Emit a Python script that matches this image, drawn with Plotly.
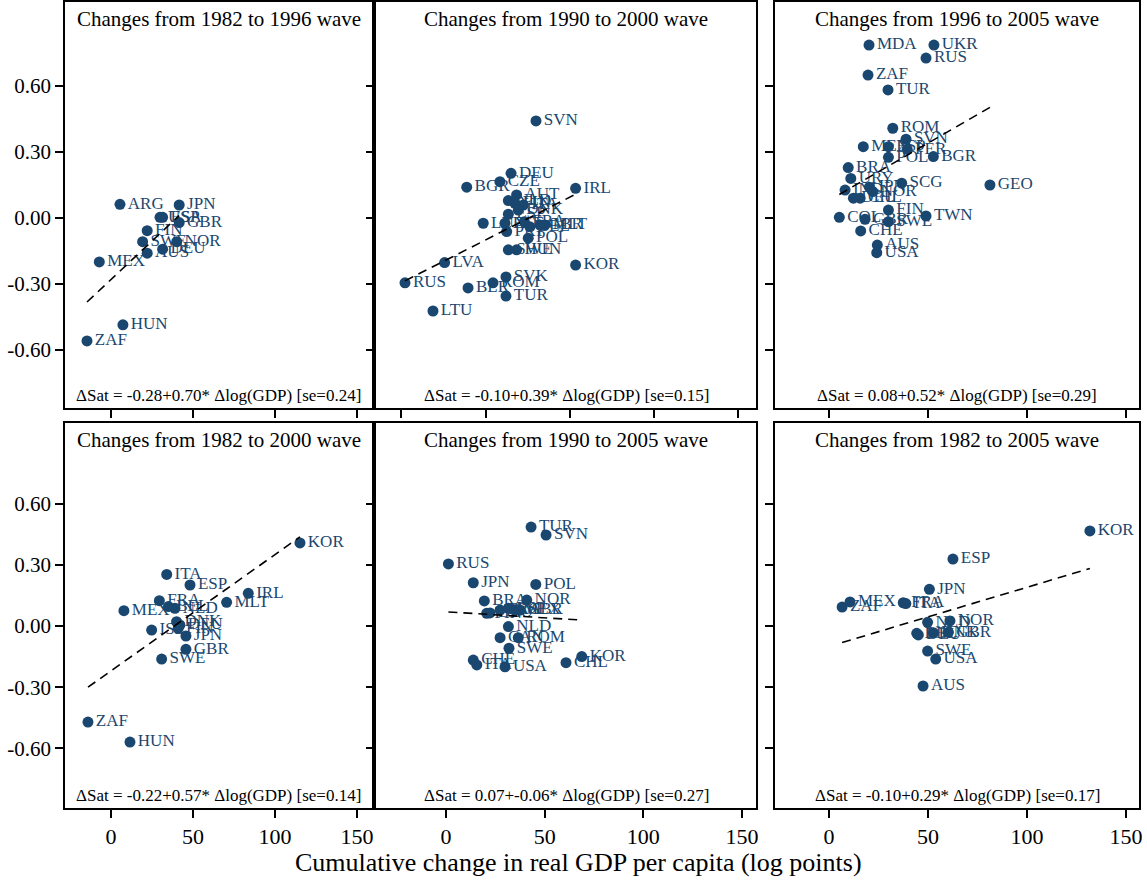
import plotly.graph_objects as go

# ---------------- data ----------------
p1_codes = ["ARG", "JPN", "USA", "ESP", "GBR", "FIN", "SWE", "NOR", "DEU", "AUS", "MEX", "HUN", "ZAF"]
p1_gdp = [5.5, 41.6, 29.9, 31.5, 41.6, 22.1, 19.3, 40.1, 31.5, 22.1, -7.1, 7.3, -14.6]
p1_sat = [0.062, 0.059, 0.003, 0.003, -0.021, -0.058, -0.108, -0.108, -0.142, -0.160, -0.200, -0.486, -0.559]
p1_fit_x = [-14.6, 41.6]
p1_fit_y = [-0.382, 0.011]

p2_codes = ["SVN", "DEU", "CZE", "BGR", "IRL", "AUT", "NLD", "FIN", "ITA", "DNK", "ESP", "LUX", "EST",
            "FRA", "BEL", "GBR", "MLT", "PRT", "POL", "SWE", "HUN", "KOR", "LVA", "SVK", "ROM", "BLR",
            "TUR", "RUS", "LTU"]
p2_gdp = [29.9, 15.1, 8.5, -11.2, 53.4, 18.4, 13.5, 17.4, 22.4, 19.4, 13.5, -1.4, 11.5,
          23.0, 26.3, 32.3, 35.2, 12.5, 25.3, 13.5, 18.4, 53.4, -24.3, 12.1, 4.4, -10.4,
          12.1, -47.8, -31.2]
p2_sat = [0.441, 0.203, 0.165, 0.140, 0.135, 0.105, 0.079, 0.067, 0.059, 0.036, 0.017, -0.024, -0.024,
          -0.017, -0.040, -0.032, -0.032, -0.062, -0.092, -0.145, -0.145, -0.214, -0.203, -0.268, -0.295, -0.318,
          -0.355, -0.295, -0.423]
p2_fit_x = [-47.8, 53.4]
p2_fit_y = [-0.286, 0.108]

p3_codes = ["MDA", "UKR", "RUS", "ZAF", "TUR", "ROM", "SVN", "MEX", "ESP", "PER", "POL", "BGR", "BRA",
            "URY", "SCG", "GEO", "IND", "JPN", "NOR", "DEU", "CHL", "FIN", "COL", "GBR", "SWE", "TWN",
            "CHE", "AUS", "USA"]
p3_gdp = [20.2, 53.0, 49.0, 19.7, 29.8, 32.2, 38.9, 17.3, 30.0, 39.5, 30.0, 52.7, 9.7,
          11.0, 36.7, 81.3, 8.1, 20.4, 22.1, 12.3, 15.7, 30.0, 5.2, 18.2, 30.0, 49.0,
          16.0, 24.4, 24.1]
p3_sat = [0.786, 0.786, 0.727, 0.650, 0.582, 0.408, 0.358, 0.324, 0.324, 0.312, 0.276, 0.279, 0.229,
          0.180, 0.158, 0.150, 0.127, 0.140, 0.120, 0.090, 0.090, 0.036, 0.003, -0.006, -0.017, 0.009,
          -0.059, -0.123, -0.158]
p3_fit_x = [5.2, 81.3]
p3_fit_y = [0.107, 0.503]

p4_codes = ["KOR", "IRL", "ITA", "ESP", "MLT", "FRA", "MEX", "BEL", "NLD", "DNK", "DEU", "FIN", "JPN",
            "ISL", "GBR", "SWE", "ZAF", "HUN"]
p4_gdp = [115.2, 83.7, 34.0, 48.2, 70.5, 29.5, 7.9, 35.0, 39.0, 40.0, 42.0, 41.0, 45.7,
          24.8, 45.7, 30.9, -14.0, 11.6]
p4_sat = [0.407, 0.160, 0.253, 0.201, 0.116, 0.124, 0.075, 0.095, 0.087, 0.021, 0.005, -0.011, -0.049,
          -0.020, -0.114, -0.162, -0.471, -0.569]
p4_fit_x = [-14.0, 115.2]
p4_fit_y = [-0.300, 0.437]

p5_codes = ["TUR", "SVN", "RUS", "JPN", "POL", "BRA", "NOR", "FIN", "DEU", "FRA", "ESP", "MEX", "GBR",
            "NLD", "CAN", "ROM", "SWE", "CHE", "ITA", "USA", "CHL", "KOR"]
p5_gdp = [43.1, 50.7, 1.2, 13.8, 45.5, 19.4, 40.9, 20.6, 22.3, 27.4, 31.6, 35.0, 37.5,
          31.6, 27.4, 36.6, 31.9, 13.8, 15.6, 29.9, 60.8, 68.8]
p5_sat = [0.485, 0.446, 0.304, 0.212, 0.204, 0.123, 0.127, 0.062, 0.064, 0.078, 0.087, 0.078, 0.078,
          -0.003, -0.057, -0.057, -0.109, -0.167, -0.191, -0.200, -0.180, -0.150]
p5_fit_x = [1.2, 68.8]
p5_fit_y = [0.069, 0.029]

p6_codes = ["KOR", "ESP", "JPN", "MEX", "ZAF", "FRA", "ITA", "NLD", "NOR", "BEL", "DEU", "DNK", "GBR",
            "SWE", "USA", "AUS"]
p6_gdp = [131.8, 62.6, 50.7, 10.6, 6.6, 37.5, 38.8, 49.8, 61.1, 44.3, 45.1, 52.7, 60.3,
          49.8, 53.9, 47.5]
p6_sat = [0.466, 0.328, 0.180, 0.118, 0.093, 0.114, 0.110, 0.018, 0.025, -0.036, -0.044, -0.033, -0.031,
          -0.123, -0.162, -0.294]
p6_fit_x = [6.6, 131.8]
p6_fit_y = [-0.081, 0.282]

titles = ["Changes from 1982 to 1996 wave", "Changes from 1990 to 2000 wave", "Changes from 1996 to 2005 wave",
          "Changes from 1982 to 2000 wave", "Changes from 1990 to 2005 wave", "Changes from 1982 to 2005 wave"]
equations = ["\u0394Sat = -0.28+0.70* \u0394log(GDP) [se=0.24]",
             "\u0394Sat = -0.10+0.39* \u0394log(GDP) [se=0.15]",
             "\u0394Sat = 0.08+0.52* \u0394log(GDP) [se=0.29]",
             "\u0394Sat = -0.22+0.57* \u0394log(GDP) [se=0.14]",
             "\u0394Sat = 0.07+-0.06* \u0394log(GDP) [se=0.27]",
             "\u0394Sat = -0.10+0.29* \u0394log(GDP) [se=0.17]"]

y_tick_vals = [0.6, 0.3, 0.0, -0.3, -0.6]
y_tick_text = ["0.60", "0.30", "0.00", "-0.30", "-0.60"]
x_tick_vals = [0, 50, 100, 150]
x_tick_vals_p2 = [-50, 0, 50, 100, 150]
x_title = "Cumulative change in real GDP per capita (log points)"

# ---------------- layout / styling ----------------
W, H = 1147, 881
FONT = "Liberation Serif, Times New Roman, serif"
NAVY = "#1a476f"

col_px = [(65, 372), (376, 756), (775, 1139)]
row_px = [(2, 408), (423, 808)]
x_ranges = [[-28.0, 159.1], [-65.0, 160.4], [-27.3, 156.6],
            [-28.0, 159.1], [-35.5, 157.1], [-27.3, 156.6]]
y_ranges = [[-0.864, 0.982], [-0.892, 0.995]]

panels = [
    (p1_codes, p1_gdp, p1_sat, p1_fit_x, p1_fit_y),
    (p2_codes, p2_gdp, p2_sat, p2_fit_x, p2_fit_y),
    (p3_codes, p3_gdp, p3_sat, p3_fit_x, p3_fit_y),
    (p4_codes, p4_gdp, p4_sat, p4_fit_x, p4_fit_y),
    (p5_codes, p5_gdp, p5_sat, p5_fit_x, p5_fit_y),
    (p6_codes, p6_gdp, p6_sat, p6_fit_x, p6_fit_y),
]

fig = go.Figure()
layout = dict(
    width=W, height=H,
    margin=dict(l=0, r=0, t=0, b=0),
    paper_bgcolor="white", plot_bgcolor="white",
    showlegend=False,
    font=dict(family=FONT, size=21, color="black"),
)
annotations = []

def px_x(p):
    return p / W

def px_y(p):
    return 1 - p / H

for i, (codes, gx, sy, fx, fy) in enumerate(panels):
    row, col = divmod(i, 3)
    n = i + 1
    xa = "x" if n == 1 else f"x{n}"
    ya = "y" if n == 1 else f"y{n}"
    fig.add_trace(go.Scatter(
        x=gx, y=sy, text=codes, mode="markers+text", textposition="middle right",
        marker=dict(size=11, color=NAVY),
        textfont=dict(family=FONT, size=17, color=NAVY),
        xaxis=xa, yaxis=ya, hoverinfo="skip"))
    fig.add_trace(go.Scatter(
        x=fx, y=fy, mode="lines",
        line=dict(color="black", width=1.6, dash="9px,6px"),
        xaxis=xa, yaxis=ya, hoverinfo="skip"))

    c0, c1 = col_px[col]
    r0, r1 = row_px[row]
    xkey = "xaxis" if n == 1 else f"xaxis{n}"
    ykey = "yaxis" if n == 1 else f"yaxis{n}"
    layout[xkey] = dict(
        domain=[px_x(c0), px_x(c1)], anchor=ya, range=x_ranges[i],
        showgrid=False, zeroline=False, showline=True, mirror=True,
        linecolor="black", linewidth=1.5,
        ticks="outside", ticklen=8, tickwidth=1.5, tickcolor="black",
        tickvals=(x_tick_vals_p2 if i == 1 else x_tick_vals),
        showticklabels=(row == 1),
        tickfont=dict(family=FONT, size=22, color="black"),
        automargin=False)
    layout[ykey] = dict(
        domain=[px_y(r1), px_y(r0)], anchor=xa, range=y_ranges[row],
        showgrid=False, zeroline=False, showline=True, mirror=True,
        linecolor="black", linewidth=1.5,
        ticks="outside", ticklen=8, tickwidth=1.5, tickcolor="black",
        tickvals=y_tick_vals, ticktext=y_tick_text,
        showticklabels=(col == 0),
        tickfont=dict(family=FONT, size=21, color="black"),
        automargin=False)

    cx = (c0 + c1) / 2
    annotations.append(dict(
        text=titles[i], x=px_x(cx), y=px_y(r0 + 17), xref="paper", yref="paper",
        xanchor="center", yanchor="middle", showarrow=False,
        font=dict(family=FONT, size=21, color="black")))
    annotations.append(dict(
        text=equations[i], x=px_x(cx), y=px_y(r1 - 13), xref="paper", yref="paper",
        xanchor="center", yanchor="middle", showarrow=False,
        font=dict(family=FONT, size=17, color="black")))

annotations.append(dict(
    text=x_title, x=px_x(578), y=px_y(862), xref="paper", yref="paper",
    xanchor="center", yanchor="middle", showarrow=False,
    font=dict(family=FONT, size=26, color="black")))

layout["annotations"] = annotations
fig.update_layout(**layout)
fig.write_html("out.html",
               config={"displayModeBar": False},
               post_script="document.body.style.margin='0';document.body.style.padding='0';")
